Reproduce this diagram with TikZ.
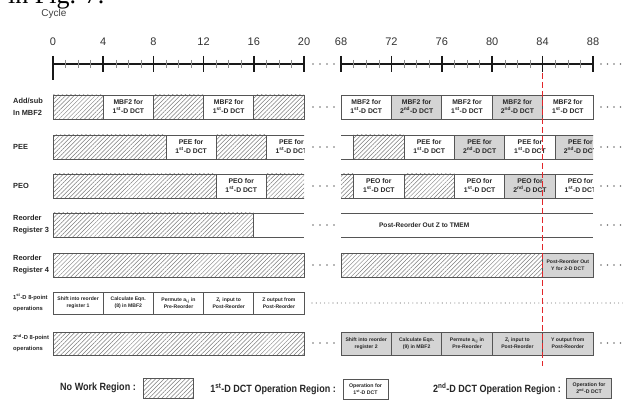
\documentclass[tikz,border=0pt]{standalone}
\usepackage{fontspec}
\setmainfont{Liberation Sans}
\newfontfamily\figserif{Liberation Serif}
\newfontfamily\narrowsans[FakeStretch=0.86]{Liberation Sans}
\usetikzlibrary{patterns.meta}
\definecolor{cutred}{RGB}{226,38,42}
\definecolor{boxgray}{RGB}{212,212,212}
\definecolor{linegray}{RGB}{85,85,85}
\definecolor{hatchgray}{RGB}{125,125,125}
\newcommand\firstD{1\textsuperscript{st}-D DCT}
\newcommand\secondD{2\textsuperscript{nd}-D DCT}
\newcommand\segt[7]{%
  \path[#1] (#2,#4) rectangle (#3,#5);
  \node[segtext] (#6) at ({(#2+#3)/2},{(#4+#5)/2}) {#7};}
\newcommand\segh[4]{\path[hatchseg] (#1,#3) rectangle (#2,#4);}
\newcommand\rowdots[1]{\foreach \xx in {313,320,327,334,601,607.5,614,620.5}
  {\fill[dotgray] (\xx,#1) circle (0.85pt);}}
\begin{document}
\begin{tikzpicture}[x=1pt,y=-1pt,
  seg/.style={draw=linegray, line width=0.8pt},
  whiteseg/.style={seg, fill=white},
  grayseg/.style={seg, fill=boxgray},
  hatchseg/.style={seg, pattern={Lines[angle=45,distance=3pt,line width=0.5pt]}, pattern color=hatchgray},
  boxtxt/.style={font=\bfseries\fontsize{6.8}{9}\selectfont, align=center, text=black!85, inner sep=0},
  smalltxt/.style={font=\bfseries\fontsize{5.1}{7.2}\selectfont, align=center, text=black!85, inner sep=0},
  segtext/.style={boxtxt},
  rowlab/.style={font=\bfseries\fontsize{7.4}{12}\selectfont, anchor=west, align=left, inner sep=0, text=black!85},
  rowlabsmall/.style={font=\bfseries\fontsize{5.8}{11}\selectfont, anchor=west, align=left, inner sep=0, text=black!85},
  axisline/.style={line width=1.4pt, black!90},
  majortick/.style={line width=1.5pt, black!90},
  minortick/.style={line width=0.5pt, black!45},
  axisnum/.style={font=\fontsize{11}{13}\selectfont, text=black!80, inner sep=0},
  dotgray/.style={black!55},
  legtxt/.style={font=\narrowsans\bfseries\fontsize{10.5}{12}\selectfont, text=black!85, inner sep=0},
  legbox/.style={minimum width=45pt, minimum height=20pt, inner sep=0, font=\bfseries\fontsize{5.2}{7}\selectfont, align=center, text=black!85}
]
\clip (0,0) rectangle (623,403);
\fill[white] (0,0) rectangle (623,403);

\node[anchor=base west, font=\figserif\fontsize{26}{26}\selectfont, inner sep=0] (figref) at (8,4) {in Fig. 7.};
\node[font=\fontsize{10}{12}\selectfont, text=black!75, inner sep=0] (cyclelab) at (54,14) {Cycle};

% ---------------- left half (cycles 0..20)
\begin{scope}[xshift=53pt, x=12.55pt]
  \draw[axisline] (0,64) -- (20,64);
  \foreach \c in {1,2,3,5,6,7,9,10,11,13,14,15,17,18,19}
    \draw[minortick] (\c,60) -- (\c,68);
  \foreach \c in {0,4,...,20} {
    \draw[majortick] (\c,56) -- (\c,72);
    \node[axisnum] (ax\c) at (\c,42) {\c};
  }
  \draw[majortick] (0,71) -- (0,80);

  % row 1
  \segh{0}{4}{95}{119}
  \segt{whiteseg}{4}{8}{95}{119}{la1}{MBF2 for\\\firstD}
  \segh{8}{12}{95}{119}
  \segt{whiteseg}{12}{16}{95}{119}{la2}{MBF2 for\\\firstD}
  \segh{16}{20}{95}{119}
  % row 2
  \begin{scope}
    \clip (-1,125) rectangle (20,170);
    \segh{0}{9}{135}{159}
    \segt{whiteseg}{9}{13}{135}{159}{lb1}{PEE for\\\firstD}
    \segh{13}{17}{135}{159}
    \segt{whiteseg}{17}{21}{135}{159}{lb2}{PEE for\\\firstD}
  \end{scope}
  % row 3
  \begin{scope}
    \clip (-1,165) rectangle (20,205);
    \segh{0}{13}{174}{198}
    \segt{whiteseg}{13}{17}{174}{198}{lc1}{PEO for\\\firstD}
    \segh{17}{21}{174}{198}
  \end{scope}
  % row 4
  \segh{0}{16}{213}{237}
  \draw[seg] (16,213) -- (20,213) (16,237) -- (20,237);
  % row 5
  \segh{0}{20}{253}{277}
  % row 6
  \begin{scope}[segtext/.style={smalltxt}]
    \segt{whiteseg}{0}{4}{292}{314}{lf1}{Shift into reorder\\register 1}
    \segt{whiteseg}{4}{8}{292}{314}{lf2}{Calculate Eqn.\\(8) in MBF2}
    \segt{whiteseg}{8}{12}{292}{314}{lf3}{Permute a\textsubscript{i,j} in\\Pre-Reorder}
    \segt{whiteseg}{12}{16}{292}{314}{lf4}{Z\textsubscript{i} input to\\Post-Reorder}
    \segt{whiteseg}{16}{20}{292}{314}{lf5}{Z output from\\Post-Reorder}
  \end{scope}
  % row 7
  \segh{0}{20}{332}{355}
\end{scope}

% ---------------- right half (cycles 68..88)
\begin{scope}[xshift=-515.8pt, x=12.6pt]
  \draw[axisline] (68,64) -- (88,64);
  \foreach \c in {69,70,71,73,74,75,77,78,79,81,82,83,85,86,87}
    \draw[minortick] (\c,60) -- (\c,68);
  \foreach \c in {68,72,...,88} {
    \draw[majortick] (\c,56) -- (\c,72);
    \node[axisnum] (ax\c) at (\c,42) {\c};
  }
  % row 1
  \segt{whiteseg}{68}{72}{95}{119}{ra1}{MBF2 for\\\firstD}
  \segt{grayseg}{72}{76}{95}{119}{ra2}{MBF2 for\\\secondD}
  \segt{whiteseg}{76}{80}{95}{119}{ra3}{MBF2 for\\\firstD}
  \segt{grayseg}{80}{84}{95}{119}{ra4}{MBF2 for\\\secondD}
  \segt{whiteseg}{84}{88}{95}{119}{ra5}{MBF2 for\\\firstD}
  % row 2
  \begin{scope}
    \clip (68,125) rectangle (88,170);
    \path[whiteseg] (65,135) rectangle (69,159);
    \segh{69}{73}{135}{159}
    \segt{whiteseg}{73}{77}{135}{159}{rb1}{PEE for\\\firstD}
    \segt{grayseg}{77}{81}{135}{159}{rb2}{PEE for\\\secondD}
    \segt{whiteseg}{81}{85}{135}{159}{rb3}{PEE for\\\firstD}
    \segt{grayseg}{85}{89}{135}{159}{rb4}{PEE for\\\secondD}
  \end{scope}
  % row 3
  \begin{scope}
    \clip (68,165) rectangle (88,205);
    \segh{65}{69}{174}{198}
    \segt{whiteseg}{69}{73}{174}{198}{rc1}{PEO for\\\firstD}
    \segh{73}{77}{174}{198}
    \segt{whiteseg}{77}{81}{174}{198}{rc2}{PEO for\\\firstD}
    \segt{grayseg}{81}{85}{174}{198}{rc3}{PEO for\\\secondD}
    \segt{whiteseg}{85}{89}{174}{198}{rc4}{PEO for\\\firstD}
  \end{scope}
  % row 4
  \draw[seg] (68,213) -- (88,213) (68,237) -- (88,237);
  \node[font=\bfseries\fontsize{6.6}{8}\selectfont, text=black!85, inner sep=0] (rd1) at (74.6,225) {Post-Reorder Out Z to TMEM};
  % row 5
  \segh{68}{84}{253}{277}
  \begin{scope}[segtext/.style={smalltxt}]
    \segt{grayseg}{84}{88}{253}{277}{re1}{Post-Reorder Out\\Y for 2-D DCT}
    % row 7
    \segt{grayseg}{68}{72}{332}{355}{rg1}{Shift into reorder\\register 2}
    \segt{grayseg}{72}{76}{332}{355}{rg2}{Calculate Eqn.\\(9) in MBF2}
    \segt{grayseg}{76}{80}{332}{355}{rg3}{Permute a\textsubscript{i,j} in\\Pre-Reorder}
    \segt{grayseg}{80}{84}{332}{355}{rg4}{Z\textsubscript{i} input to\\Post-Reorder}
    \segt{grayseg}{84}{88}{332}{355}{rg5}{Y output from\\Post-Reorder}
  \end{scope}
\end{scope}

% row labels
\node[rowlab] (lab1) at (13,107) {Add/sub\\In MBF2};
\node[rowlab] (lab2) at (13,147) {PEE};
\node[rowlab] (lab3) at (13,186) {PEO};
\node[rowlab] (lab4) at (13,225) {Reorder\\Register 3};
\node[rowlab] (lab5) at (13,265) {Reorder\\Register 4};
\node[rowlabsmall] (lab6) at (13,303) {1\textsuperscript{st}-D 8-point\\operations};
\node[rowlabsmall] (lab7) at (13,343) {2\textsuperscript{nd}-D 8-point\\operations};

% continuation dots
\foreach \yy in {64,107,147,186,225,265,343} {\rowdots{\yy}}
\coordinate (dotA) at (312,303);
\coordinate (dotB) at (623,303);
\draw[black!55, line width=1.1pt, line cap=round, dash pattern=on 0pt off 4.2pt] (dotA) -- (dotB);

% red cut line at cycle 84
\coordinate (redtop) at (542.6,73);
\coordinate (redbot) at (542.6,366);
\draw[cutred, line width=1pt, dash pattern=on 6pt off 3pt] (redtop) -- (redbot);

% legend
\node[legtxt, anchor=east] (lg1) at (136,388) {No Work Region :};
\node[hatchseg, minimum width=50pt, minimum height=20pt, inner sep=0] (lgb1) at (168,388) {};
\node[legtxt, anchor=east] (lg2) at (336,389) {1\textsuperscript{st}-D DCT Operation Region :};
\node[whiteseg, legbox] (lgb2) at (365.5,389) {Operation for\\\firstD};
\node[legtxt, anchor=east] (lg3) at (561,389) {2\textsuperscript{nd}-D DCT Operation Region :};
\node[grayseg, legbox] (lgb3) at (589,388.5) {Operation for\\\secondD};
\end{tikzpicture}
\end{document}
